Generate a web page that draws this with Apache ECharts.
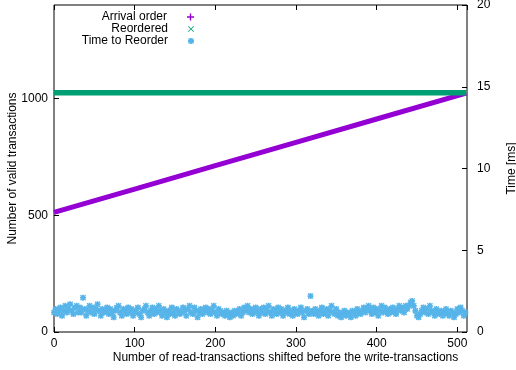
<!DOCTYPE html>
<html>
<head>
<meta charset="utf-8">
<script src="https://cdn.jsdelivr.net/npm/echarts@6/dist/echarts.min.js"></script>
<style>
html,body{margin:0;padding:0;background:#fff;}
#c{width:516px;height:370px;}
</style>
</head>
<body>
<div id="c"></div>
<script>
// ---- data ----
const seriesNames = ['Arrival order', 'Reordered', 'Time to Reorder'];
const xTicks = [0, 100, 200, 300, 400, 500];
const leftTicks = [0, 500, 1000];
const rightTicks = [0, 5, 10, 15, 20];

// Arrival order (points read along the band)
const arrivalX = [0, 100, 200, 300, 400, 511];
const arrivalY = [512, 612, 712, 812, 912, 1023];

// Reordered (constant band)
const reorderedX = [0, 100, 200, 300, 400, 511];
const reorderedY = [1024, 1024, 1024, 1024, 1024, 1024];

// Time to reorder [ms], one value every 2 transactions shifted (x = 0,2,4,...,510)
const timeStep = 2;
const timeMs = [
  1.2,1.4,1.1,1.3,1.5,1.0,1.3,1.6,1.2,1.4,1.7,1.3,1.1,1.5,1.6,1.2,
  1.5,1.2,2.1,1.4,1.0,1.3,1.6,1.2,1.5,1.1,1.4,1.7,1.3,1.0,1.4,1.2,
  1.3,1.5,1.1,1.4,1.2,0.9,1.3,1.5,1.6,1.2,1.0,1.4,1.3,1.1,1.5,1.2,
  1.4,1.0,1.3,1.2,1.5,1.1,0.9,1.3,1.4,1.6,1.2,1.0,1.3,1.5,1.1,1.4,
  1.2,1.6,1.3,1.0,1.4,1.2,0.9,1.3,1.1,1.5,1.2,1.0,1.4,1.3,1.1,1.2,
  1.5,1.3,1.0,1.4,1.6,1.2,1.1,1.5,1.3,0.9,1.2,1.4,1.1,1.3,1.5,1.2,
  1.4,1.1,1.3,1.6,1.2,1.0,1.4,1.3,1.1,1.2,1.0,1.3,1.1,0.9,1.2,1.0,
  1.3,1.1,1.2,1.4,1.0,1.2,1.5,1.3,1.6,1.2,1.4,1.1,1.3,1.5,1.2,1.0,
  1.4,1.2,1.5,1.1,1.3,1.6,1.2,1.0,1.4,1.3,1.1,1.5,1.2,1.4,1.0,1.3,
  1.2,1.5,1.1,1.3,1.0,1.4,1.2,1.1,1.3,1.5,1.2,0.9,1.3,1.4,1.1,2.2,
  1.3,1.1,1.4,1.2,1.0,1.3,1.5,1.1,1.2,1.4,1.0,1.3,1.6,1.2,1.1,1.4,
  1.0,1.2,0.9,1.1,1.3,1.0,1.2,1.1,0.9,1.3,1.2,1.0,1.4,1.2,1.1,1.3,
  1.5,1.2,1.4,1.6,1.3,1.1,1.5,1.2,1.4,1.0,1.3,1.6,1.2,1.5,1.3,1.1,
  1.4,1.2,1.5,1.3,1.1,1.4,1.6,1.3,1.5,1.2,1.6,1.4,1.6,1.8,1.9,1.6,
  1.3,1.0,0.9,1.1,1.3,1.5,1.2,1.4,1.1,1.6,1.3,1.2,1.0,1.4,1.2,1.1,
  1.3,1.0,1.2,1.4,1.1,1.0,1.3,1.2,0.9,1.1,1.4,1.2,1.5,1.3,1.0,1.2
];

// ---- styling ----
const FONT = "'Liberation Sans', Arial, sans-serif";
const colors = ['#9400d3', '#009e73', '#56b4e9'];
const PLUS = 'path://M4,0H6V4H10V6H6V10H4V6H0V4H4Z';
const CROSS = 'path://M0,1L1,0L5,4L9,0L10,1L6,5L10,9L9,10L5,6L1,10L0,9L4,5Z';
const STAR = 'path://M3.5,0H6.5V3.5H10V6.5H6.5V10H3.5V6.5H0V3.5H3.5Z M0,1.5L1.5,0L5,3.5L8.5,0L10,1.5L6.5,5L10,8.5L8.5,10L5,6.5L1.5,10L0,8.5L3.5,5Z';

const zip = (xs, ys) => xs.map((x, i) => [x, ys[i]]);
const timeData = timeMs.map((v, i) => [i * timeStep, v]);

const tickStyle = { show: true, inside: true, length: 5, lineStyle: { color: '#000', width: 1 } };
const lineOff = { show: false, onZero: false };
const labelStyle = { color: '#000', fontSize: 12, fontFamily: FONT };

function legendFor(name, icon, top, size) {
  return {
    data: [{ name: name, icon: icon }],
    right: 322, top: top, orient: 'vertical', align: 'right',
    padding: 0, itemGap: 0, itemWidth: size, itemHeight: size,
    selectedMode: false,
    textStyle: { color: '#000', fontSize: 12, fontFamily: FONT, padding: [0, 15, 0, 0] }
  };
}

const chart = echarts.init(document.getElementById('c'), null, { renderer: 'canvas' });
chart.setOption({
  animation: false,
  backgroundColor: '#fff',
  grid: {
    left: 54, right: 49, top: 5, bottom: 38, show: true, borderColor: '#000', borderWidth: 1,
    containLabel: false, outerBoundsMode: 'none'
  },
  legend: [
    legendFor(seriesNames[0], PLUS, 11, 7),
    legendFor(seriesNames[1], CROSS, 23, 6),
    legendFor(seriesNames[2], STAR, 35, 6)
  ],
  xAxis: [
    {
      type: 'value', position: 'bottom', min: xTicks[0], max: 512, interval: xTicks[1] - xTicks[0],
      axisLine: lineOff, axisTick: tickStyle, splitLine: { show: false },
      axisLabel: Object.assign({ margin: 6, showMaxLabel: false, formatter: v => String(v) }, labelStyle),
      name: 'Number of read-transactions shifted before the write-transactions',
      nameLocation: 'middle', nameGap: 20, nameMoveOverlap: false,
      nameTextStyle: { color: '#000', fontSize: 12, fontFamily: FONT, padding: [0, 0, 0, 50] }
    },
    {
      type: 'value', position: 'top', min: xTicks[0], max: 512, interval: xTicks[1] - xTicks[0],
      axisLine: lineOff, axisTick: tickStyle, splitLine: { show: false },
      axisLabel: { show: false }
    }
  ],
  yAxis: [
    {
      type: 'value', position: 'left', min: leftTicks[0], max: 1400, interval: leftTicks[1] - leftTicks[0],
      axisLine: lineOff, axisTick: tickStyle, splitLine: { show: false },
      axisLabel: Object.assign({ margin: 6, showMaxLabel: false, formatter: v => String(v) }, labelStyle),
      name: 'Number of valid transactions', nameLocation: 'middle', nameGap: 35, nameRotate: 90,
      nameMoveOverlap: false,
      nameTextStyle: { color: '#000', fontSize: 12, fontFamily: FONT }
    },
    {
      type: 'value', position: 'right', min: rightTicks[0], max: rightTicks[rightTicks.length - 1],
      interval: rightTicks[1] - rightTicks[0],
      axisLine: lineOff, axisTick: tickStyle, splitLine: { show: false },
      axisLabel: Object.assign({ margin: 10, formatter: v => String(v) }, labelStyle),
      name: 'Time [ms]', nameLocation: 'middle', nameGap: 39, nameRotate: 90,
      nameMoveOverlap: false,
      nameTextStyle: { color: '#000', fontSize: 12, fontFamily: FONT }
    }
  ],
  series: [
    {
      name: seriesNames[0], type: 'line', xAxisIndex: 0, yAxisIndex: 0,
      data: zip(arrivalX, arrivalY), symbol: 'none', color: colors[0],
      lineStyle: { color: colors[0], width: 5 }, z: 2
    },
    {
      name: seriesNames[1], type: 'line', xAxisIndex: 0, yAxisIndex: 0,
      data: zip(reorderedX, reorderedY), symbol: 'none', color: colors[1],
      lineStyle: { color: colors[1], width: 5.5 }, z: 3
    },
    {
      name: seriesNames[2], type: 'scatter', xAxisIndex: 0, yAxisIndex: 1,
      data: timeData, symbol: STAR, symbolSize: 6, color: colors[2],
      itemStyle: { color: colors[2], opacity: 1 }, z: 4
    }
  ]
});
</script>
</body>
</html>
